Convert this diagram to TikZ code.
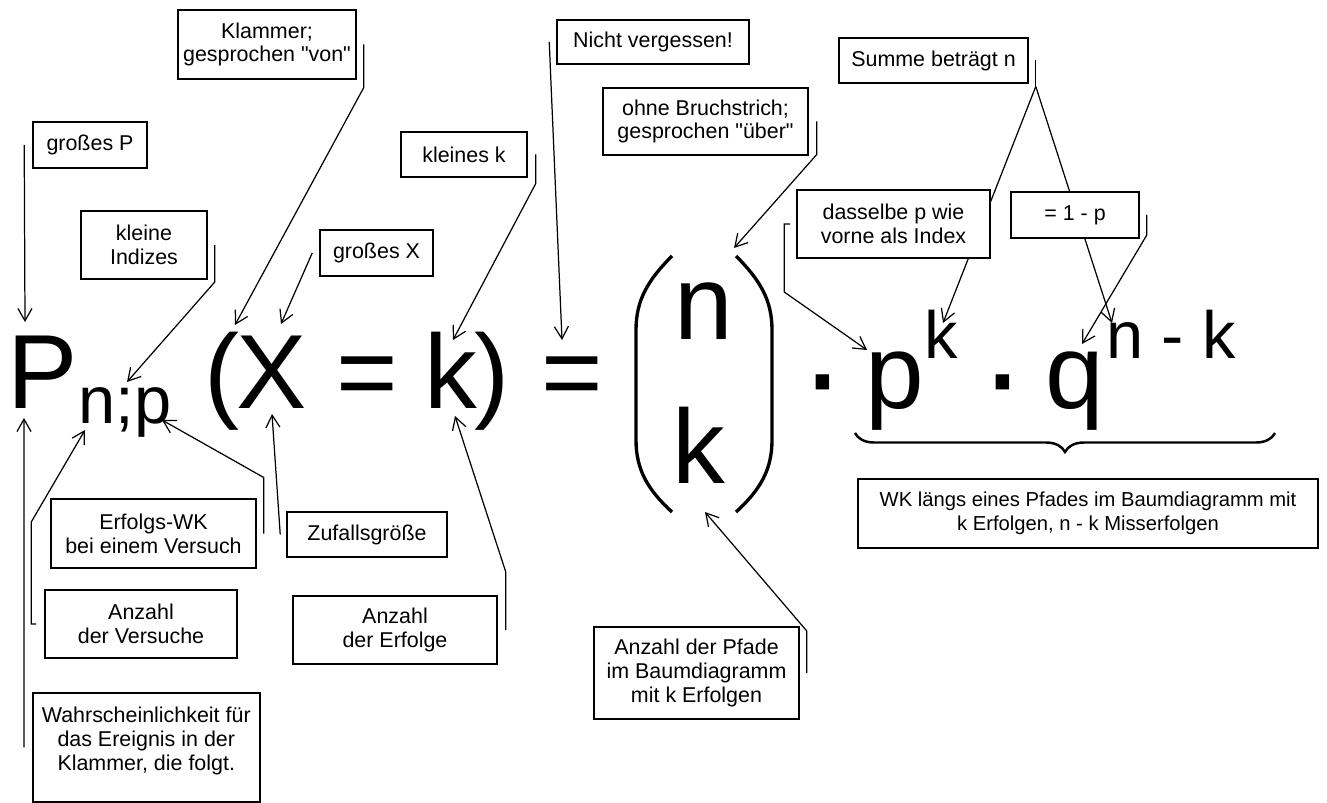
\documentclass[tikz,border=0pt]{standalone}
\usepackage{fontspec}
\setmainfont{Liberation Sans}
\usepackage{tikz}
\usetikzlibrary{arrows.meta,decorations.pathreplacing}

\newcommand{\grossschrift}{\fontsize{60}{72}\selectfont}
\newcommand{\kleinschrift}{\fontsize{38}{46}\selectfont}
\newcommand{\punktschrift}{\fontsize{80}{90}\selectfont}

\begin{document}
\begin{tikzpicture}[
  x=0.02cm, y=-0.02cm,
  >={Straight Barb[length=7pt,width=8pt]},
  notiz/.style={rectangle, draw, fill=white, line width=0.9pt, inner sep=0pt,
    align=center, font=\fontsize{12.2}{13.6}\selectfont},
  pfeil/.style={->, line width=0.7pt},
  glyph/.style={anchor=base, inner sep=0pt, font=\grossschrift},
  index/.style={anchor=base, inner sep=0pt, font=\kleinschrift},
  punkt/.style={anchor=base, inner sep=0pt, font=\punktschrift}
]
  \useasboundingbox (0,0) rectangle (1327,803);

  % Formel
  \node[glyph] (P)    at (43,408)   {P};
  \node[index] (Pidx) at (125,423)  {n;p};
  \node[glyph] (lp)   at (222,408)  {(};
  \node[glyph] (X)    at (272,408)  {X};
  \node[glyph] (eqa)  at (367,408)  {=};
  \node[glyph] (k)    at (451,408)  {k};
  \node[glyph] (rp)   at (492,408)  {)};
  \node[glyph] (eqb)  at (572,408)  {=};
  \node[glyph] (bn)   at (704,340)  {n};
  \node[glyph] (bk)   at (699,483)  {k};
  \node[punkt] (dota) at (823,420)  {·};
  \node[glyph] (p)    at (895,408)  {p};
  \node[index] (pexp) at (941,358)  {k};
  \node[punkt] (dotb) at (1003,420) {·};
  \node[glyph] (q)    at (1075,408) {q};
  \node[index] (qexp) at (1171,358) {n - k};

  \draw[line width=1.9pt] (672,256) .. controls (648,280) and (636,300) .. (636,330)
    -- (636,440) .. controls (636,470) and (648,490) .. (672,512);
  \draw[line width=1.9pt] (736,256) .. controls (760,280) and (772,300) .. (772,330)
    -- (772,440) .. controls (772,470) and (760,490) .. (736,512);
  \draw[line width=1.4pt, decorate, decoration={brace, mirror, amplitude=0.38cm}]
    (855,433) -- (1275,433);

  % Zielpunkte
  \coordinate (tP)   at (25,322);
  \coordinate (tPb)  at (24,418);
  \coordinate (tn)   at (127,382);
  \coordinate (tnb)  at (85,430);
  \coordinate (tpb)  at (162,420);
  \coordinate (tlp)  at (235,325);
  \coordinate (tX)   at (281,324);
  \coordinate (tXb)  at (272,414);
  \coordinate (tk)   at (453,340);
  \coordinate (tkb)  at (455,416);
  \coordinate (teq)  at (562,340);
  \coordinate (tbn)  at (734,248);
  \coordinate (tbk)  at (705,512);
  \coordinate (tp)   at (867,350);
  \coordinate (tpk)  at (943,323);
  \coordinate (tq)   at (1082,344);
  \coordinate (tqn)  at (1112,323);

  % Kaesten oben
  \node[notiz, minimum width=2.28cm, minimum height=0.92cm] (A) at (90,145)     {großes P};
  \node[notiz, minimum width=2.52cm, minimum height=1.36cm] (B) at (144,245)    {kleine\\Indizes};
  \node[notiz, minimum width=3.56cm, minimum height=1.38cm] (C) at (267,44.5)   {Klammer;\\gesprochen \textquotedbl von\textquotedbl};
  \node[notiz, minimum width=2.26cm, minimum height=0.92cm] (D) at (376.5,253)  {großes X};
  \node[notiz, minimum width=2.52cm, minimum height=0.90cm] (E) at (464,154.5)  {kleines k};
  \node[notiz, minimum width=3.84cm, minimum height=0.88cm] (F) at (653,42)     {Nicht vergessen!};
  \node[notiz, minimum width=4.10cm, minimum height=1.34cm] (G) at (705.5,121.5) {ohne Bruchstrich;\\gesprochen \textquotedbl über\textquotedbl};
  \node[notiz, minimum width=3.78cm, minimum height=0.90cm] (H) at (933.5,60.5) {Summe beträgt n};

  \draw[pfeil] ([xshift=-0.16cm]A.west) -- (tP);
  \draw[pfeil] ([xshift=0.14cm]B.east) -- ++(0,37) -- (tn);
  \draw[pfeil] ([xshift=0.14cm]C.east) -- ++(0,43) -- (tlp);
  \draw[pfeil] ([xshift=-0.14cm]D.west) -- (tX);
  \draw[pfeil] ([xshift=0.16cm]E.east) -- ++(0,29) -- (tk);
  \draw[pfeil] ([xshift=-0.14cm]F.west) -- (teq);
  \draw[pfeil] ([xshift=0.16cm]G.east) -- ++(0,33) -- (tbn);
  \draw[line width=0.7pt] ([xshift=0.14cm]H.east) -- ++(0,26) coordinate (gabel);
  \draw[pfeil] (gabel) -- (tpk);
  \draw[pfeil] (gabel) -- (tqn);

  \node[notiz, minimum width=3.86cm, minimum height=1.36cm] (I) at (893.5,224) {dasselbe p wie\\vorne als Index};
  \node[notiz, minimum width=2.56cm, minimum height=0.92cm] (J) at (1075,215)  {= 1 - p};

  \draw[pfeil] ([xshift=-0.12cm]I.west) -- ++(-6,0) -- ++(0,68) -- (tp);
  \draw[pfeil] ([xshift=0.14cm]J.east) -- ++(0,20) -- (tq);

  % Kaesten unten
  \node[notiz, minimum width=4.10cm, minimum height=1.38cm] (K) at (153.5,533.5) {Erfolgs-WK\\bei einem Versuch};
  \node[notiz, minimum width=3.84cm, minimum height=1.36cm] (L) at (141,624)    {Anzahl\\der Versuche};
  \node[notiz, anchor=north west, minimum width=4.54cm] (M) at (32,692)
    {\parbox[t][2.18cm][t]{4.4cm}{\centering\rule{0pt}{16.9pt}Wahrscheinlichkeit für\\das Ereignis in der\\Klammer, die folgt.}};
  \node[notiz, minimum width=3.20cm, minimum height=0.90cm] (N) at (367,534.5)  {Zufallsgröße};
  \node[notiz, minimum width=4.08cm, minimum height=1.36cm] (O) at (395,630)    {Anzahl\\der Erfolge};
  \node[notiz, minimum width=4.10cm, minimum height=1.84cm] (Q) at (696.5,673)  {Anzahl der Pfade\\im Baumdiagramm\\mit k Erfolgen};
  \node[notiz, minimum width=9.20cm, minimum height=1.38cm, font=\fontsize{11.5}{13.6}\selectfont] (R) at (1088,513.5)
    {WK längs eines Pfades im Baumdiagramm mit\\k Erfolgen, n - k Misserfolgen};

  \draw[pfeil] ([xshift=0.14cm]K.east) -- ++(0,-56) -- (tpb);
  \draw[pfeil] ([xshift=-0.16cm]L.west) -- ++(-5,0) -- ++(0,-102) -- (tnb);
  \draw[pfeil] ([xshift=-0.16cm]M.west) -- (tPb);
  \draw[pfeil] ([xshift=-0.12cm]N.west) -- (tXb);
  \draw[pfeil] ([xshift=0.16cm]O.east) -- ++(0,-58) -- (tkb);
  \draw[pfeil] ([xshift=0.14cm]Q.east) -- ++(0,-42) -- (tbk);
\end{tikzpicture}
\end{document}
